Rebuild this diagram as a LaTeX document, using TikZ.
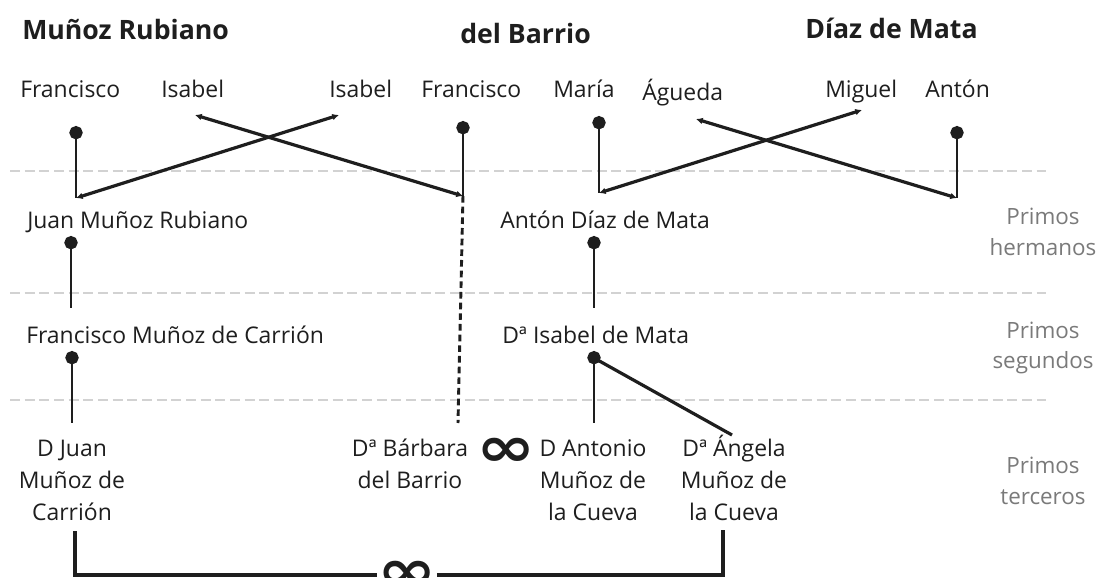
\documentclass[tikz,border=0pt]{standalone}
\usepackage{fontspec}
\setmainfont{Open Sans}
\newfontfamily\symfont{DejaVu Sans}
\usetikzlibrary{arrows.meta}
\definecolor{ink}{HTML}{1E1E1E}
\definecolor{shade}{HTML}{7A7A7A}
\definecolor{rule}{HTML}{D2D2D2}
\begin{document}
\begin{tikzpicture}[x=0.75pt,y=-0.75pt,
  family/.style={font=\fontsize{20}{24}\selectfont\bfseries, text=ink, anchor=base west, inner sep=0pt},
  person/.style={font=\fontsize{17.2}{24}\selectfont, text=ink, anchor=base west, inner sep=0pt},
  heir/.style={font=\fontsize{17.2}{24}\selectfont, text=ink, anchor=base, align=center, inner sep=0pt},
  degree/.style={font=\fontsize{16.8}{23}\selectfont, text=shade, align=center},
  ring/.style={font=\symfont\bfseries\fontsize{42}{42}\selectfont, text=ink, inner sep=0pt},
  level/.style={draw=rule, line width=1.5pt, dash pattern=on 7.5pt off 3.5pt},
  stem/.style={draw=ink, line width=2pt, {Circle[length=10pt]}-},
  swap/.style={draw=ink, line width=2.4pt, {Latex[length=5pt,width=5pt]}-{Latex[length=5pt,width=5pt]}},
  kin/.style={draw=ink, line width=2.2pt, dash pattern=on 5pt off 3pt},
  bond/.style={draw=ink, line width=2.4pt}]
\useasboundingbox (0,0) rectangle (1101,578);
\fill[white] (0,0) rectangle (1101,578);
\draw[level] (10,171) -- (1046,171);
\draw[level] (10,293) -- (1046,293);
\draw[level] (10,400) -- (1046,400);
\node[family] (munoz) at (22,39) {Muñoz Rubiano};
\node[family] (barrio) at (460,43) {del Barrio};
\node[family] (diaz) at (805,38) {Díaz de Mata};
\node[person] (francisco1) at (20,97) {Francisco};
\node[person] (isabel1) at (161,97) {Isabel};
\node[person] (isabel2) at (329,97) {Isabel};
\node[person] (francisco2) at (421,97) {Francisco};
\node[person] (maria) at (553,97) {María};
\node[person] (agueda) at (642,100) {Águeda};
\node[person] (miguel) at (825,97) {Miguel};
\node[person] (anton) at (925,97) {Antón};
\node[person] (juanmr) at (27,228) {Juan Muñoz Rubiano};
\node[person] (antondm) at (500,228) {Antón Díaz de Mata};
\node[person] (franciscomc) at (26,343) {Francisco Muñoz de Carrión};
\node[person] (isabeldm) at (502,343) {Dª Isabel de Mata};
\node[heir] (juanmc) at (72,520) {D Juan\\Muñoz de\\Carrión};
\node[heir] (barbara) at (410,488) {Dª Bárbara\\del Barrio};
\node[heir] (antonio) at (593,520) {D Antonio\\Muñoz de\\la Cueva};
\node[heir] (angela) at (734,520) {Dª Ángela\\Muñoz de\\la Cueva};
\node[ring] (wedding) at (506,452) {\scalebox{1.27}[1]{∞}};
\node[ring] (knot) at (407,575) {\scalebox{1.27}[1]{∞}};
\node[degree] (hermanos) at (1043,232) {Primos\\hermanos};
\node[degree] (segundos) at (1043,348) {Primos\\segundos};
\node[degree] (terceros) at (1043,481) {Primos\\terceros};
\coordinate (fr1top) at (76,126);
\coordinate (fr1bot) at (76,198);
\coordinate (is1tip) at (195,115);
\coordinate (is2tip) at (339,115);
\coordinate (fr2top) at (463,121);
\coordinate (fr2bot) at (463,196);
\coordinate (matop) at (599,116);
\coordinate (mabot) at (599,193);
\coordinate (agtip) at (696,119);
\coordinate (mitip) at (862,110);
\coordinate (antop) at (957,126);
\coordinate (anbot) at (957,198);
\coordinate (jmrtop) at (71,236);
\coordinate (jmrbot) at (71,308);
\coordinate (admtop) at (594,236);
\coordinate (admbot) at (594,308);
\coordinate (fmctop) at (72,351);
\coordinate (fmcbot) at (72,423);
\coordinate (idmtop) at (594,351);
\coordinate (idmdot) at (594,358);
\coordinate (idmbot) at (594,423);
\coordinate (angtop) at (732,435);
\coordinate (barbtop) at (458,423);
\coordinate (jmcdown) at (75,531);
\coordinate (angdown) at (723,530);
\draw[stem] (fr1top) -- (fr1bot);
\draw[stem] (fr2top) -- (fr2bot);
\draw[stem] (matop) -- (mabot);
\draw[stem] (antop) -- (anbot);
\draw[swap] (is1tip) -- (fr2bot);
\draw[swap] (is2tip) -- (fr1bot);
\draw[swap] (agtip) -- (anbot);
\draw[swap] (mitip) -- (mabot);
\draw[kin] (fr2bot) -- (barbtop);
\draw[stem] (jmrtop) -- (jmrbot);
\draw[stem] (admtop) -- (admbot);
\draw[stem] (fmctop) -- (fmcbot);
\draw[stem] (idmtop) -- (idmbot);
\draw[bond] (idmdot) -- (angtop);
\draw[bond] (jmcdown) |- (knot.west);
\draw[bond] (knot.east) -| (angdown);
\end{tikzpicture}
\end{document}
